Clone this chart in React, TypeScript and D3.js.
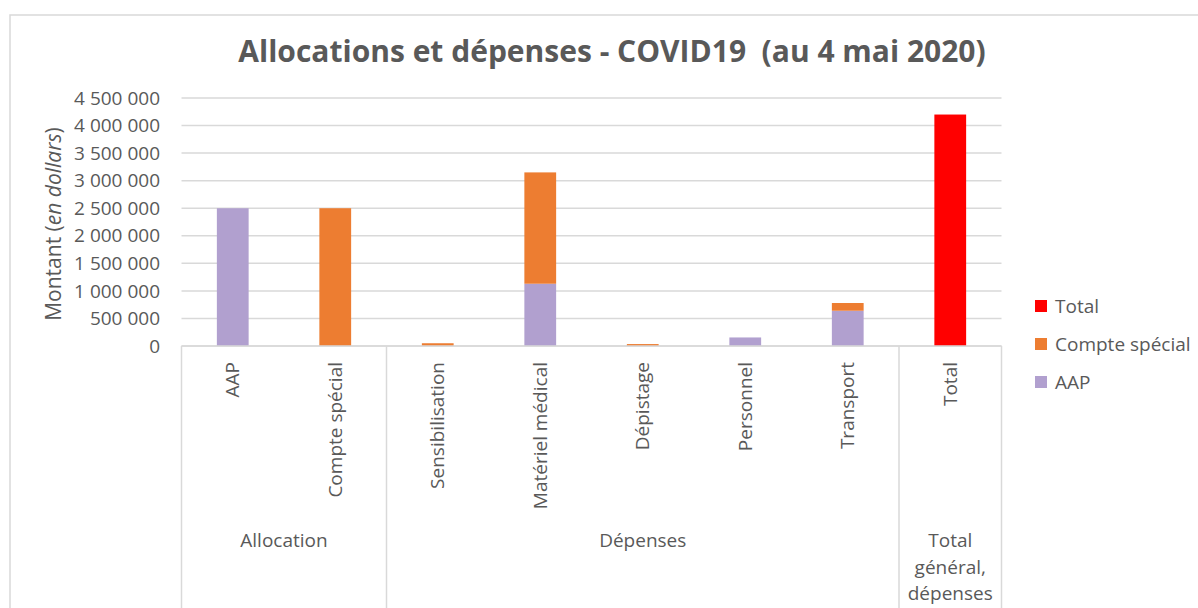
import { useEffect, useRef } from "react";
import * as d3 from "d3";

const categories = [
  "AAP",
  "Compte spécial",
  "Sensibilisation",
  "Matériel médical",
  "Dépistage",
  "Personnel",
  "Transport",
  "Total",
];
const groupLabels = [["Allocation"], ["Dépenses"], ["Total", "général,", "dépenses"]];
const groupSpans = [
  [0, 2],
  [2, 7],
  [7, 8],
];
const seriesNames = ["AAP", "Compte spécial", "Total"];
const seriesColors = ["#b1a0cf", "#ed7d31", "#ff0000"];
const aapValues = [2500000, 0, 0, 1130000, 0, 155000, 640000, 0];
const compteValues = [0, 2500000, 50000, 2020000, 35000, 0, 140000, 0];
const totalValues = [0, 0, 0, 0, 0, 0, 0, 4200000];
const yTicks = [0, 500000, 1000000, 1500000, 2000000, 2500000, 3000000, 3500000, 4000000, 4500000];

const TEXT = "#595959";
const GRID = "#d9d9d9";
const FONT = "'Open Sans', sans-serif";

export default function App() {
  const svgRef = useRef<SVGSVGElement>(null);

  useEffect(() => {
    if (!svgRef.current) return;
    const width = 1198;
    const height = 608;
    const svg = d3.select(svgRef.current);
    svg.selectAll("*").remove();
    svg.attr("width", width).attr("height", height).style("font-family", FONT);

    const left = 181.5;
    const right = 1001.5;
    const top = 98;
    const bottom = 346;

    const x = d3
      .scaleBand<string>()
      .domain(categories)
      .range([left, right])
      .paddingInner(0.69)
      .paddingOuter(0.345);
    const y = d3.scaleLinear().domain([0, 4500000]).range([bottom, top]);
    const fr = d3.formatLocale({
      decimal: ",",
      thousands: " ",
      grouping: [3],
      currency: ["", "$"],
    });
    const fmt = fr.format(",");

    // chart frame
    svg
      .append("rect")
      .attr("x", 10)
      .attr("y", 15)
      .attr("width", width)
      .attr("height", height)
      .attr("fill", "white")
      .attr("stroke", GRID)
      .attr("stroke-width", 1.5);

    // title
    svg
      .append("text")
      .attr("x", 612)
      .attr("y", 62)
      .attr("text-anchor", "middle")
      .attr("font-size", "30px")
      .attr("font-weight", "bold")
      .attr("fill", TEXT)
      .attr("xml:space", "preserve")
      .text("Allocations et dépenses - COVID19  (au 4 mai 2020)");

    // gridlines
    svg
      .append("g")
      .selectAll("line")
      .data(yTicks)
      .enter()
      .append("line")
      .attr("x1", left)
      .attr("x2", right)
      .attr("y1", (d) => y(d))
      .attr("y2", (d) => y(d))
      .attr("stroke", GRID)
      .attr("stroke-width", 1.5);

    // y tick labels
    svg
      .append("g")
      .selectAll("text")
      .data(yTicks)
      .enter()
      .append("text")
      .attr("x", 160)
      .attr("y", (d) => y(d))
      .attr("dy", "0.35em")
      .attr("text-anchor", "end")
      .attr("font-size", "19px")
      .attr("fill", TEXT)
      .text((d) => fmt(d));

    // y title
    const yt = svg
      .append("text")
      .attr("transform", `translate(61,224) rotate(-90)`)
      .attr("text-anchor", "middle")
      .attr("font-size", "21px")
      .attr("fill", TEXT);
    yt.append("tspan").text("Montant (");
    yt.append("tspan").attr("font-style", "italic").text("en dollars");
    yt.append("tspan").text(")");

    // stacked bars
    const rows = categories.map((c, i) => ({
      cat: c,
      AAP: aapValues[i],
      "Compte spécial": compteValues[i],
      Total: totalValues[i],
    }));
    const stacked = d3.stack<any>().keys(seriesNames)(rows);
    stacked.forEach((layer, si) => {
      svg
        .append("g")
        .attr("fill", seriesColors[si])
        .selectAll("rect")
        .data(layer.filter((d) => d[1] > d[0]))
        .enter()
        .append("rect")
        .attr("x", (d) => x(d.data.cat) as number)
        .attr("width", x.bandwidth())
        .attr("y", (d) => y(d[1]))
        .attr("height", (d) => y(d[0]) - y(d[1]));
    });

    // category axis boxes
    const step = x.step();
    const boundaries = [0, 2, 7, 8].map((i) => left + i * step);
    svg
      .append("line")
      .attr("x1", left)
      .attr("x2", right)
      .attr("y1", bottom)
      .attr("y2", bottom)
      .attr("stroke", GRID)
      .attr("stroke-width", 1.5);
    svg
      .append("g")
      .selectAll("line")
      .data(boundaries)
      .enter()
      .append("line")
      .attr("x1", (d) => d)
      .attr("x2", (d) => d)
      .attr("y1", bottom)
      .attr("y2", height)
      .attr("stroke", GRID)
      .attr("stroke-width", 1.5);

    // category labels (rotated)
    svg
      .append("g")
      .selectAll("text")
      .data(categories)
      .enter()
      .append("text")
      .attr(
        "transform",
        (d) => `translate(${(x(d) as number) + x.bandwidth() / 2},362) rotate(-90)`
      )
      .attr("dy", "0.35em")
      .attr("text-anchor", "end")
      .attr("font-size", "19px")
      .attr("fill", TEXT)
      .text((d) => d);

    // group labels
    groupLabels.forEach((lines, gi) => {
      const cx = left + ((groupSpans[gi][0] + groupSpans[gi][1]) / 2) * step;
      const t = svg
        .append("text")
        .attr("text-anchor", "middle")
        .attr("font-size", "19px")
        .attr("fill", TEXT);
      lines.forEach((ln, li) => {
        t.append("tspan")
          .attr("x", cx)
          .attr("y", 547 + li * 26.5)
          .text(ln);
      });
    });

    // legend
    const legendItems = [2, 1, 0];
    const legend = svg.append("g").attr("transform", "translate(1035,306)");
    legendItems.forEach((si, i) => {
      const row = legend.append("g").attr("transform", `translate(0,${i * 38})`);
      row
        .append("rect")
        .attr("x", 0)
        .attr("y", -6)
        .attr("width", 12)
        .attr("height", 12)
        .attr("fill", seriesColors[si]);
      row
        .append("text")
        .attr("x", 20)
        .attr("y", 0)
        .attr("dy", "0.35em")
        .attr("font-size", "19px")
        .attr("fill", TEXT)
        .text(seriesNames[si]);
    });
  }, []);

  return (
    <div style={{ position: "absolute", left: 0, top: 0 }}>
      <svg ref={svgRef}></svg>
    </div>
  );
}
